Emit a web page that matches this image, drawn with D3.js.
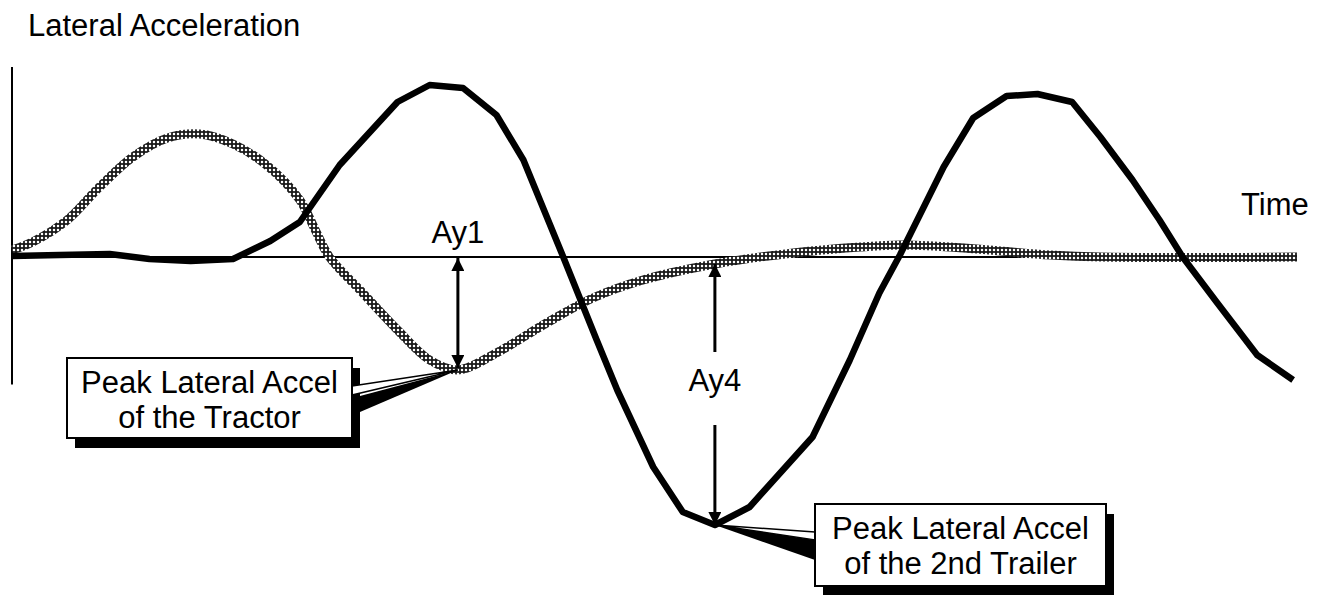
<!DOCTYPE html>
<html>
<head>
<meta charset="utf-8">
<script src="https://cdn.jsdelivr.net/npm/d3@7"></script>
<style>
  body { margin: 0; background: #fff; }
  svg { display: block; }
  text { font-family: "Liberation Sans", Arial, Helvetica, sans-serif; fill: #000; }
</style>
</head>
<body>
<svg width="1326" height="595"></svg>
<script>
// time (arbitrary units) and lateral acceleration (arbitrary units, 0 = baseline)
var trailerTime = [0, 0.37, 0.76, 1.07, 1.39, 1.72, 2.01, 2.24, 2.55, 3.00, 3.25, 3.51, 3.77, 3.98,
    4.29, 4.55, 4.71, 4.99, 5.22, 5.47, 5.74, 6.23, 6.52, 6.75, 6.91, 7.25, 7.48, 7.74, 7.98,
    8.25, 8.47, 8.72, 8.93, 9.11, 9.38, 9.69, 9.97];
var trailerAccel = [0.004, 0.008, 0.012, -0.008, -0.016, -0.008, 0.064, 0.14, 0.368, 0.62, 0.688, 0.676, 0.568, 0.388,
    0, -0.332, -0.532, -0.84, -1.02, -1.072, -1.0, -0.72, -0.412, -0.144, 0.008, 0.36, 0.556, 0.644, 0.652,
    0.62, 0.48, 0.308, 0.148, 0, -0.184, -0.392, -0.492];

var tractorTime = [0, 0.16, 0.43, 0.68, 0.94, 1.21, 1.46, 1.72, 1.98, 2.24, 2.36, 2.47, 2.73, 3.00,
    3.25, 3.47, 3.77, 4.16, 4.52, 4.91, 5.47, 6.08, 6.60, 6.91, 7.30, 7.69, 8.08, 8.47, 10.0];
var tractorAccel = [0.028, 0.06, 0.148, 0.28, 0.4, 0.476, 0.492, 0.452, 0.368, 0.228, 0.108, 0, -0.144, -0.292,
    -0.412, -0.452, -0.384, -0.264, -0.164, -0.092, -0.028, 0.016, 0.04, 0.048, 0.04, 0.024, 0.008, 0, 0];

// peak markers
var ay1 = {label: 'Ay1', t: 3.47, top: 0, bottom: -0.452};
var ay4 = {label: 'Ay4', t: 5.47, top: -0.028, bottom: -1.072};

var calloutLines = [
    ['Peak Lateral Accel', 'of the Tractor'],
    ['Peak Lateral Accel', 'of the 2nd Trailer']
];

var svg = d3.select('svg');
var fontSize = 31;

var xScale = d3.scaleLinear().domain([0, 10]).range([12, 1297]);
var yScale = d3.scaleLinear().domain([-1.28, 0.76]).range([577, 67]);

var defs = svg.append('defs');

// dotted screen used by the tractor curve
var pat = defs.append('pattern')
    .attr('id', 'dots')
    .attr('patternUnits', 'userSpaceOnUse')
    .attr('width', 4)
    .attr('height', 4);
pat.append('rect').attr('width', 4).attr('height', 4).attr('fill', '#1a1a1a');
pat.append('circle').attr('cx', 2).attr('cy', 2).attr('r', 1.25).attr('fill', '#fff');

defs.append('marker')
    .attr('id', 'head')
    .attr('viewBox', '0 0 10 10')
    .attr('refX', 10)
    .attr('refY', 5)
    .attr('markerUnits', 'userSpaceOnUse')
    .attr('markerWidth', 17)
    .attr('markerHeight', 13)
    .attr('orient', 'auto-start-reverse')
    .append('path')
    .attr('d', 'M0,0L10,5L0,10z')
    .attr('fill', '#000');

// axes: vertical line and zero line
svg.append('line')
    .attr('x1', xScale(0)).attr('x2', xScale(0))
    .attr('y1', yScale(0.76)).attr('y2', yScale(-0.51))
    .attr('stroke', '#000').attr('stroke-width', 2);

svg.append('line')
    .attr('x1', xScale(0)).attr('x2', xScale(10))
    .attr('y1', yScale(0)).attr('y2', yScale(0))
    .attr('stroke', '#000').attr('stroke-width', 2);

svg.append('text')
    .attr('x', 28).attr('y', 36)
    .style('font-size', fontSize + 'px')
    .text('Lateral Acceleration');

svg.append('text')
    .attr('x', 1241).attr('y', 215)
    .style('font-size', fontSize + 'px')
    .text('Time');

var tractorData = tractorTime.map(function(t, i) { return [t, tractorAccel[i]]; });
var trailerData = trailerTime.map(function(t, i) { return [t, trailerAccel[i]]; });

var smoothLine = d3.line()
    .x(function(d) { return xScale(d[0]); })
    .y(function(d) { return yScale(d[1]); })
    .curve(d3.curveCatmullRom);

var straightLine = d3.line()
    .x(function(d) { return xScale(d[0]); })
    .y(function(d) { return yScale(d[1]); });

svg.append('path')
    .datum(tractorData)
    .attr('d', smoothLine)
    .attr('fill', 'none')
    .attr('stroke', 'url(#dots)')
    .attr('stroke-width', 9);

svg.append('path')
    .datum(trailerData)
    .attr('d', straightLine)
    .attr('fill', 'none')
    .attr('stroke', '#000')
    .attr('stroke-width', 6.5)
    .attr('stroke-linejoin', 'round');

// Ay1 double arrow
svg.append('line')
    .attr('x1', xScale(ay1.t)).attr('x2', xScale(ay1.t))
    .attr('y1', yScale(ay1.top) + 1).attr('y2', yScale(ay1.bottom) - 2)
    .attr('stroke', '#000').attr('stroke-width', 3)
    .attr('marker-start', 'url(#head)')
    .attr('marker-end', 'url(#head)');

svg.append('text')
    .attr('x', xScale(ay1.t)).attr('y', 243)
    .attr('text-anchor', 'middle')
    .style('font-size', fontSize + 'px')
    .text(ay1.label);

// Ay4 split arrow with label in the gap
var mid4 = 391;
svg.append('line')
    .attr('x1', xScale(ay4.t)).attr('x2', xScale(ay4.t))
    .attr('y1', mid4 - 39).attr('y2', yScale(ay4.top))
    .attr('stroke', '#000').attr('stroke-width', 3)
    .attr('marker-end', 'url(#head)');
svg.append('line')
    .attr('x1', xScale(ay4.t)).attr('x2', xScale(ay4.t))
    .attr('y1', mid4 + 34).attr('y2', yScale(ay4.bottom))
    .attr('stroke', '#000').attr('stroke-width', 3)
    .attr('marker-end', 'url(#head)');
svg.append('text')
    .attr('x', xScale(ay4.t)).attr('y', mid4)
    .attr('text-anchor', 'middle')
    .style('font-size', fontSize + 'px')
    .text(ay4.label);

// callout boxes with drop shadow and pointer
function callout(box, lines, target, side) {
    var px = xScale(target[0]);
    var py = yScale(target[1]);
    var g = svg.append('g');
    var edge = side === 'right' ? box.x + box.w : box.x;
    var sh = side === 'right' ? 8 : 0;

    g.append('path')
        .attr('d', 'M' + (edge + sh) + ',' + box.wedge[0] + 'L' + px + ',' + py + 'L' + (edge + sh) + ',' + box.wedge[1] + 'Z')
        .attr('fill', '#000');
    g.append('rect')
        .attr('x', box.x + 8).attr('y', box.y + 10)
        .attr('width', box.w).attr('height', box.h)
        .attr('fill', '#000');
    g.append('path')
        .attr('d', 'M' + edge + ',' + box.tail[0] + 'L' + px + ',' + py + 'L' + edge + ',' + box.tail[1] + 'Z')
        .attr('fill', '#fff')
        .attr('stroke', '#000')
        .attr('stroke-width', 1.5);
    g.append('rect')
        .attr('x', box.x).attr('y', box.y)
        .attr('width', box.w).attr('height', box.h)
        .attr('fill', '#fff')
        .attr('stroke', '#000')
        .attr('stroke-width', 2);
    g.selectAll('text')
        .data(lines)
        .enter()
        .append('text')
        .attr('x', box.x + box.w / 2)
        .attr('y', function(d, i) { return box.y + 35 + i * 35; })
        .attr('text-anchor', 'middle')
        .style('font-size', fontSize + 'px')
        .text(function(d) { return d; });
}

callout({x: 67, y: 358, w: 285, h: 80, tail: [386, 395], wedge: [396, 412]},
    calloutLines[0], [ay1.t, ay1.bottom], 'right');
callout({x: 815, y: 504, w: 291, h: 82, tail: [532, 540], wedge: [540, 560]},
    calloutLines[1], [ay4.t, ay4.bottom], 'left');
</script>
</body>
</html>
